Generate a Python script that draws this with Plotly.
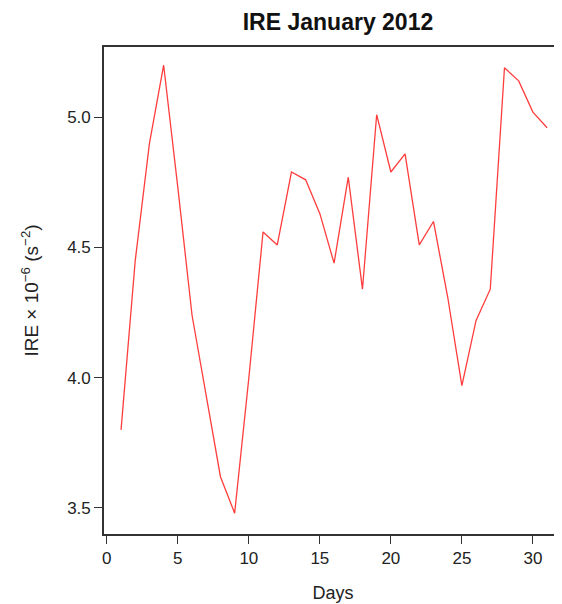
import plotly.graph_objects as go

days = list(range(1, 32))
ire = [3.80, 4.45, 4.90, 5.20, 4.73, 4.24, 3.93, 3.62, 3.48, 4.00,
       4.56, 4.51, 4.79, 4.76, 4.63, 4.44, 4.77, 4.34, 5.01, 4.79,
       4.86, 4.51, 4.60, 4.31, 3.97, 4.22, 4.34, 5.19, 5.14, 5.02, 4.96]
x_ticks = [0, 5, 10, 15, 20, 25, 30]
y_ticks = [3.5, 4.0, 4.5, 5.0]
y_tick_labels = ["3.5", "4.0", "4.5", "5.0"]

font = "Liberation Sans, Arial, Helvetica, sans-serif"

# The page body has an 8px margin, so the figure is sized/offset to compensate.
W, H = 554, 596

fig = go.Figure()
fig.add_trace(go.Scatter(x=days, y=ire, mode="lines",
                         line=dict(color="rgba(255,40,40,0.9)", width=1.3),
                         showlegend=False, hoverinfo="x+y"))

fig.update_layout(
    width=W, height=H,
    margin=dict(l=96, r=0, t=39, b=70),
    paper_bgcolor="white", plot_bgcolor="white",
    font=dict(family=font, size=17, color="#222"),
    title=dict(text="<b>IRE January 2012</b>", x=330 / W, xanchor="center",
               y=1 - 14 / H, yanchor="middle",
               font=dict(family=font, size=23, color="#111")),
)
fig.update_xaxes(range=[-0.2, 32.05], tickvals=x_ticks, ticks="outside",
                 ticklen=8, tickwidth=1.3, tickcolor="#333",
                 showline=True, linecolor="#333", linewidth=1.6, mirror=True,
                 showgrid=False, zeroline=False,
                 title=dict(text="Days", standoff=19, font=dict(size=18)))
fig.update_yaxes(range=[3.40, 5.27], tickvals=y_ticks, ticktext=y_tick_labels,
                 ticks="outside", ticklen=8, tickwidth=1.3, tickcolor="#333",
                 showline=True, linecolor="#333", linewidth=1.6,
                 showgrid=False, zeroline=False,
                 title=dict(text="IRE \u00d7 10<sup>\u22126</sup> (s<sup>\u22122</sup>)",
                            standoff=24, font=dict(size=19)))

fig.write_html("out.html")
